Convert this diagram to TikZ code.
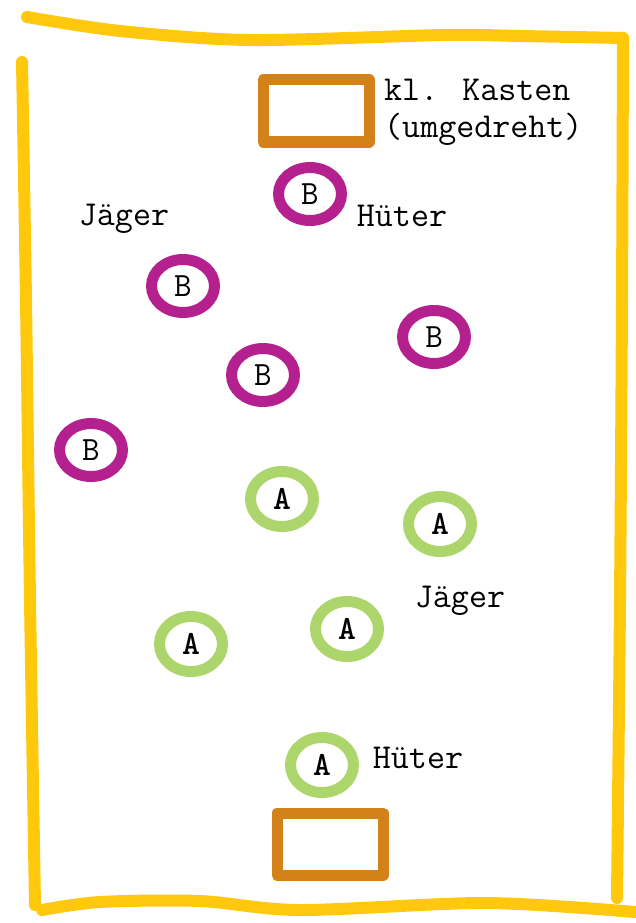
\documentclass[tikz,border=0pt]{standalone}
\usepackage{tikz}
\usetikzlibrary{shapes.geometric, positioning}
\definecolor{frameyellow}{RGB}{255,200,12}
\definecolor{boxorange}{RGB}{210,130,24}
\definecolor{teamb}{RGB}{180,32,142}
\definecolor{teama}{RGB}{172,214,108}

\begin{document}
\begin{tikzpicture}[
    x=1pt, y=-1pt,
    rand/.style={draw=frameyellow, line width=12pt, line cap=round, line join=round},
    kasten/.style={draw=boxorange, line width=11pt, line join=round, minimum width=106pt, minimum height=62pt},
    spielerb/.style={ellipse, draw=teamb, line width=11pt, minimum width=63pt, minimum height=53pt, inner sep=0pt, font=\fontsize{34}{36}\ttfamily},
    spielera/.style={ellipse, draw=teama, line width=11pt, minimum width=63pt, minimum height=55pt, inner sep=0pt, font=\fontsize{34}{36}\ttfamily\bfseries},
    txt/.style={font=\fontsize{35}{37}\ttfamily, inner sep=0pt, align=left}
]
\useasboundingbox (0,0) rectangle (635,923);

% Spielfeld
\draw[rand] plot[smooth] coordinates {(27,17) (120,31) (250,40) (445,35) (520,36) (623,38)};
\draw[rand] plot[smooth] coordinates {(623,38) (622,300) (620,600) (617,898)};
\draw[rand] plot[smooth] coordinates {(22,62) (26,300) (30,600) (35,905)};
\draw[rand] plot[smooth] coordinates {(42,910) (100,902) (200,901) (300,910) (486,903) (635,912)};

% Kasten
\node[kasten] (kastenoben) at (316,111) {};
\node[kasten] (kastenunten) at (330,844) {};
\node[txt, anchor=west] (kastentxt) at (384,112) {kl. Kasten\\(umgedreht)};

% Team B
\node[spielerb] (b1) at (310,194) {B};
\node[spielerb] (b2) at (183,286) {B};
\node[spielerb] (b3) at (434,337) {B};
\node[spielerb] (b4) at (263,375) {B};
\node[spielerb] (b5) at (91,450) {B};
\node[txt] (hueterb) at (402,216) {Hüter};
\node[txt] (jaegerb) at (124,219) {Jäger};

% Team A
\node[spielera] (a1) at (282,499) {A};
\node[spielera] (a2) at (440,524) {A};
\node[spielera] (a3) at (191,644) {A};
\node[spielera] (a4) at (347,629) {A};
\node[spielera] (a5) at (322,765) {A};
\node[txt] (jaegera) at (460,601) {Jäger};
\node[txt] (huetera) at (418,758) {Hüter};
\end{tikzpicture}
\end{document}
